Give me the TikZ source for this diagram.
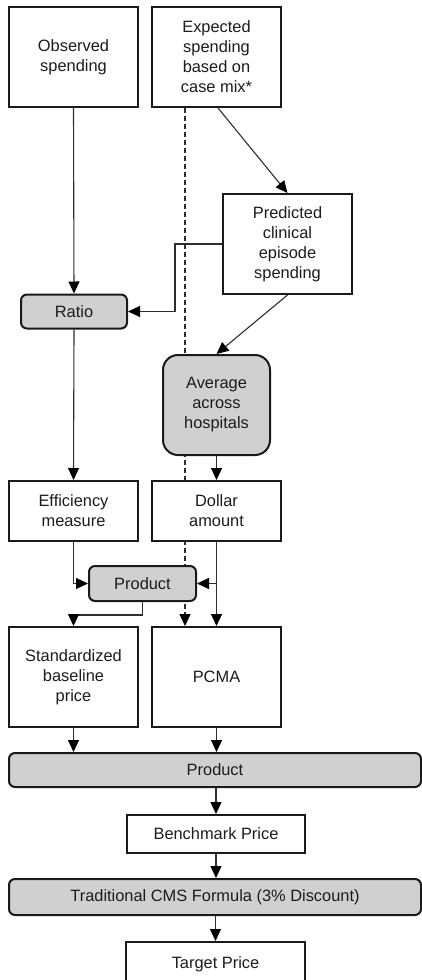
\documentclass[tikz,border=0pt]{standalone}
\usepackage{fontspec}
\setmainfont{Liberation Sans}
\usetikzlibrary{arrows.meta,backgrounds,calc}
\definecolor{boxline}{HTML}{1A1A1A}
\definecolor{wire}{HTML}{2E2E2E}
\definecolor{opfill}{HTML}{D0D0D0}
\definecolor{txt}{HTML}{1C1C1C}
\begin{document}
\begin{tikzpicture}[x=1pt,y=-1pt,
  every node/.style={font=\fontsize{16.4}{20}\selectfont, text=txt, align=center, inner sep=0pt},
  databox/.style={draw=boxline, line width=2pt, fill=white, rectangle},
  opbox/.style={draw=boxline, line width=2pt, fill=opfill, rounded corners=6pt},
  tip/.style={-{Triangle[length=12pt,width=11pt,color=black]}},
  flow/.style={draw=wire, line width=1.1pt, tip},
  guide/.style={draw=wire, line width=1.1pt, dash pattern=on 5pt off 3pt, tip}]
\clip (0,0) rectangle (422,980);
\useasboundingbox (0,0) rectangle (422,980);

% inputs
\node[databox, minimum width=129pt, minimum height=100pt] (obs) at (73.5,57) {Observed\\spending};
\node[databox, minimum width=129pt, minimum height=100pt] (exp) at (216.5,57) {Expected\\spending\\based on\\case mix*};
\node[databox, minimum width=129pt, minimum height=100pt] (pred) at (287.5,244) {Predicted\\clinical\\episode\\spending};

% operations and intermediate values
\node[opbox, minimum width=106pt, minimum height=34pt] (ratio) at (74,311.5) {Ratio};
\node[opbox, rounded corners=15pt, minimum width=107pt, minimum height=100pt] (avg) at (216.5,405) {Average\\across\\hospitals};
\node[databox, minimum width=129pt, minimum height=60pt] (eff) at (73.5,511) {Efficiency\\measure};
\node[databox, minimum width=129pt, minimum height=60pt] (dol) at (216.5,511) {Dollar\\amount};
\node[opbox, minimum width=107pt, minimum height=35pt] (prodA) at (142.5,583.5) {Product};
\node[databox, minimum width=129pt, minimum height=100pt] (std) at (73.5,677) {Standardized\\baseline\\price};
\node[databox, minimum width=129pt, minimum height=100pt] (pcma) at (216.5,677) {PCMA};

% final steps
\node[opbox, minimum width=412pt, minimum height=34pt] (prodB) at (215,770) {Product};
\node[databox, minimum width=178pt, minimum height=38pt] (bench) at (216,834) {Benchmark Price};
\node[opbox, minimum width=412pt, minimum height=36pt] (trad) at (215,897) {Traditional CMS Formula (3\% Discount)};
\node[databox, minimum width=179pt, minimum height=44pt] (target) at (215.5,964) {Target Price};

% dashed guide running behind the boxes
\path (exp.south) ++(-31.5,0) coordinate (dtop);
\begin{scope}[on background layer]
  \draw[guide] (dtop) -- (dtop |- pcma.north);
\end{scope}

% connectors
\draw[flow] (obs.south) -- (ratio.north);
\draw[flow] ($(exp.south)+(1.5,0)$) -- (pred.north);
\draw[flow] (pred.west) -- ++(-47,0) |- (ratio.east);
\draw[flow] (pred.south) -- (avg.north);
\draw[flow] (ratio.south) -- (eff.north);
\draw[flow] (avg.south) -- (dol.north);
\draw[flow] (eff.south) |- (prodA.west);
\draw[flow] (dol.south) -- (pcma.north);
\draw[flow] (dol.south |- prodA.east) -- (prodA.east);
\draw[flow] (prodA.south) -- ++(0,13) -| (std.north);
\draw[flow] (std.south) -- (std.south |- prodB.north);
\draw[flow] (pcma.south) -- (pcma.south |- prodB.north);
\draw[flow] (bench.north |- prodB.south) -- (bench.north);
\draw[flow] (bench.south) -- (bench.south |- trad.north);
\draw[flow] (target.north |- trad.south) -- (target.north);
\end{tikzpicture}
\end{document}
